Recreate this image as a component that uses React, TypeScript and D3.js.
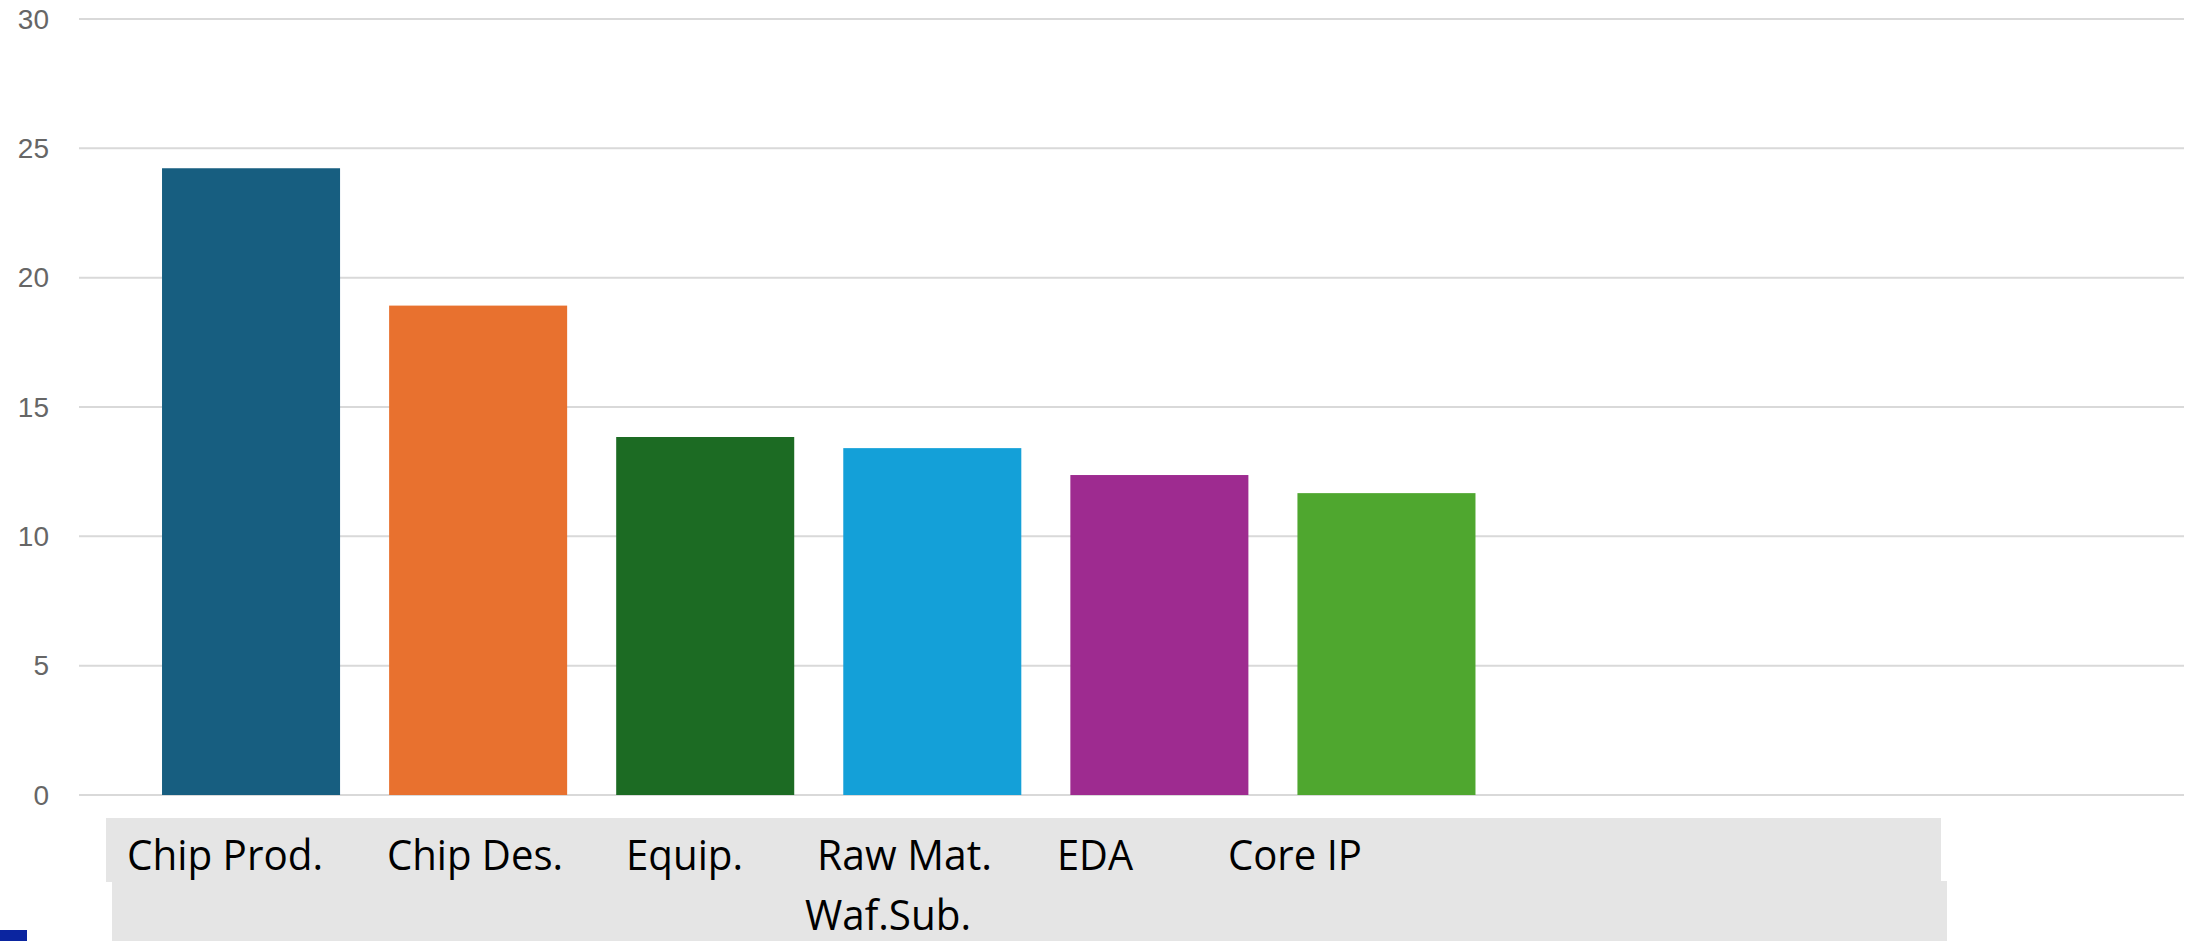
import React from "react";
import * as d3 from "d3";

// ---- data ----
const categories = ["Chip Prod.", "Chip Des.", "Equip.", "Raw Mat. Waf.Sub.", "EDA", "Core IP"];
const values = [24.23, 18.92, 13.84, 13.41, 12.37, 11.67];
const barColors = ["#175e80", "#e8712f", "#1c6b23", "#14a0d8", "#9e2b90", "#4fa72f"];
const yTicks = [0, 5, 10, 15, 20, 25, 30];

// label text lines (row, text) as shown under the chart
const labelRow1 = ["Chip Prod.", "Chip Des.", "Equip.", "Raw Mat.", "EDA", "Core IP"];
const labelRow2 = ["", "", "", "Waf.Sub.", "", ""];

// ---- layout (not data) ----
const W = 2191;
const H = 941;
const label1X = [127, 387, 626, 817, 1057, 1228];
const label1W = [196, 176, 117, 175, 76, 134];
const label2X = [0, 0, 0, 805, 0, 0];
const label2W = [0, 0, 0, 166, 0, 0];

export default function App() {
  const y = d3.scaleLinear().domain([0, 30]).range([795, 19]);
  const x = d3
    .scaleBand<string>()
    .domain(categories)
    .range([137.5, 1500])
    .paddingInner(0.216)
    .paddingOuter(0.108);

  return (
    <svg
      width={W}
      height={H}
      style={{ position: "absolute", left: 0, top: 0, background: "#fff" }}
    >
      <rect x={0} y={0} width={W} height={H} fill="#ffffff" />
      {/* gridlines */}
      {yTicks.map((t) => (
        <line
          key={"g" + t}
          x1={79}
          x2={2184}
          y1={y(t)}
          y2={y(t)}
          stroke="#d9d9d9"
          strokeWidth={2}
        />
      ))}
      {/* y tick labels */}
      {yTicks.map((t) => (
        <text
          key={"t" + t}
          x={49}
          y={y(t)}
          textAnchor="end"
          dominantBaseline="central"
          fontFamily="Liberation Sans, Arial, sans-serif"
          fontSize={28}
          fill="#666666"
        >
          {t}
        </text>
      ))}
      {/* bars */}
      {categories.map((c, i) => (
        <rect
          key={"b" + c}
          x={x(c)}
          y={y(values[i])}
          width={x.bandwidth()}
          height={y(0) - y(values[i])}
          fill={barColors[i]}
        />
      ))}
      {/* label boxes */}
      <rect x={106} y={818} width={1835} height={64} fill="#e5e5e5" />
      <rect x={112} y={881} width={1835} height={60} fill="#e5e5e5" />
      {labelRow1.map((s, i) => (
        <text
          key={"l1" + i}
          x={label1X[i]}
          y={870}
          fontFamily="Open Sans, Noto Sans, sans-serif"
          fontSize={42}
          fill="#000"
          textLength={label1W[i]}
          lengthAdjust="spacingAndGlyphs"
        >
          {s}
        </text>
      ))}
      {labelRow2.map((s, i) =>
        s ? (
          <text
            key={"l2" + i}
            x={label2X[i]}
            y={930}
            fontFamily="Open Sans, Noto Sans, sans-serif"
            fontSize={42}
            fill="#000"
            textLength={label2W[i]}
            lengthAdjust="spacingAndGlyphs"
          >
            {s}
          </text>
        ) : null
      )}
      {/* small blue mark bottom-left */}
      <rect x={0} y={930} width={27} height={11} fill="#0b25a0" />
    </svg>
  );
}
